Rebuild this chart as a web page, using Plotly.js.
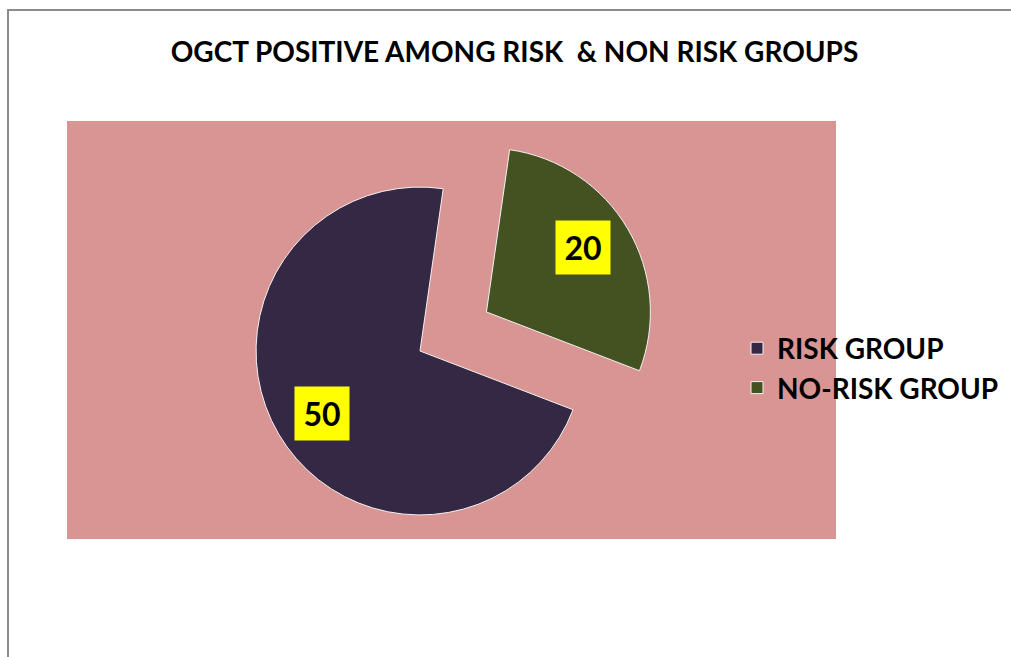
<!DOCTYPE html>
<html>
<head>
<meta charset="utf-8">
<script src="https://cdn.plot.ly/plotly-3.0.1.min.js"></script>
<style>html,body{margin:0;padding:0;background:#fff;}#chart{width:1011px;height:657px;}</style>
</head>
<body>
<div id="chart"></div>
<script>
// ---- data ----
const chartTitle = "OGCT POSITIVE AMONG RISK  &amp; NON RISK GROUPS";
const groupLabels = ["RISK GROUP", "NO-RISK GROUP"];
const groupValues = [50, 20];
const groupColors = ["#352845", "#435220"];
const groupPull = [0, 0.47];

// ---- layout geometry (pixels) ----
const W = 1011, H = 657;
const pieCx = 420, pieCy = 351, pieBox = 482;
const rotationDeg = 111;

const domX = [(pieCx - pieBox / 2) / W, (pieCx + pieBox / 2) / W];
const domY = [1 - (pieCy + pieBox / 2) / H, 1 - (pieCy - pieBox / 2) / H];

// value label positions, computed from the data angles
const total = groupValues.reduce((a, b) => a + b, 0);
const maxPull = Math.max(...groupPull);
const r = pieBox / (2 + 2 * maxPull);
let angle = rotationDeg;
const annotations = [];
groupValues.forEach((v, i) => {
  const span = v / total * 360;
  const mid = (angle + span / 2 - 2) * Math.PI / 180;
  angle += span;
  const cx = pieCx + groupPull[i] * r * Math.sin(mid);
  const cy = pieCy - groupPull[i] * r * Math.cos(mid);
  const px = cx + 0.71 * r * Math.sin(mid);
  const py = cy - 0.71 * r * Math.cos(mid);
  annotations.push({
    x: px / W, y: 1 - py / H, xref: "paper", yref: "paper",
    xanchor: "center", yanchor: "middle",
    text: String(v), showarrow: false,
    font: {family: "Lato, 'Open Sans', sans-serif", size: 32, color: "#000", weight: "bold"},
    bgcolor: "#FFFF00", borderpad: 5, width: 44, height: 43
  });
});

const trace = {
  type: "pie",
  labels: groupLabels,
  values: groupValues,
  pull: groupPull,
  sort: false,
  direction: "clockwise",
  rotation: rotationDeg,
  marker: {colors: groupColors, line: {color: "#f2f2f2", width: 1}},
  textinfo: "none",
  hoverinfo: "label+value",
  domain: {x: domX, y: domY}
};

const layout = {
  width: W, height: H,
  margin: {l: 0, r: 0, t: 0, b: 0},
  paper_bgcolor: "#ffffff",
  title: {
    text: "<b>" + chartTitle + "</b>",
    x: 514.5 / W, xanchor: "center", xref: "paper",
    y: 1 - 52 / H, yanchor: "middle", yref: "container",
    font: {family: "Lato, 'Open Sans', sans-serif", size: 28, color: "#000"}
  },
  showlegend: true,
  legend: {
    x: 737 / W, xanchor: "left",
    y: 1 - 368 / H, yanchor: "middle",
    bgcolor: "rgba(0,0,0,0)",
    font: {family: "Lato, 'Open Sans', sans-serif", size: 28, color: "#000", weight: "bold"},
    itemwidth: 30
  },
  shapes: [
    {type: "rect", xref: "paper", yref: "paper", layer: "below",
     x0: 67 / W, x1: 836 / W, y0: 1 - 539 / H, y1: 1 - 121 / H,
     fillcolor: "#D99594", line: {width: 0}},
    {type: "path", xref: "paper", yref: "paper", layer: "above",
     path: `M ${8/W} -0.01 L ${8/W} ${1 - 10/H} L 1.01 ${1 - 10/H}`,
     line: {color: "#8c8c8c", width: 2}}
  ],
  annotations: annotations
};

Plotly.newPlot("chart", [trace], layout, {displayModeBar: false});
</script>
</body>
</html>
